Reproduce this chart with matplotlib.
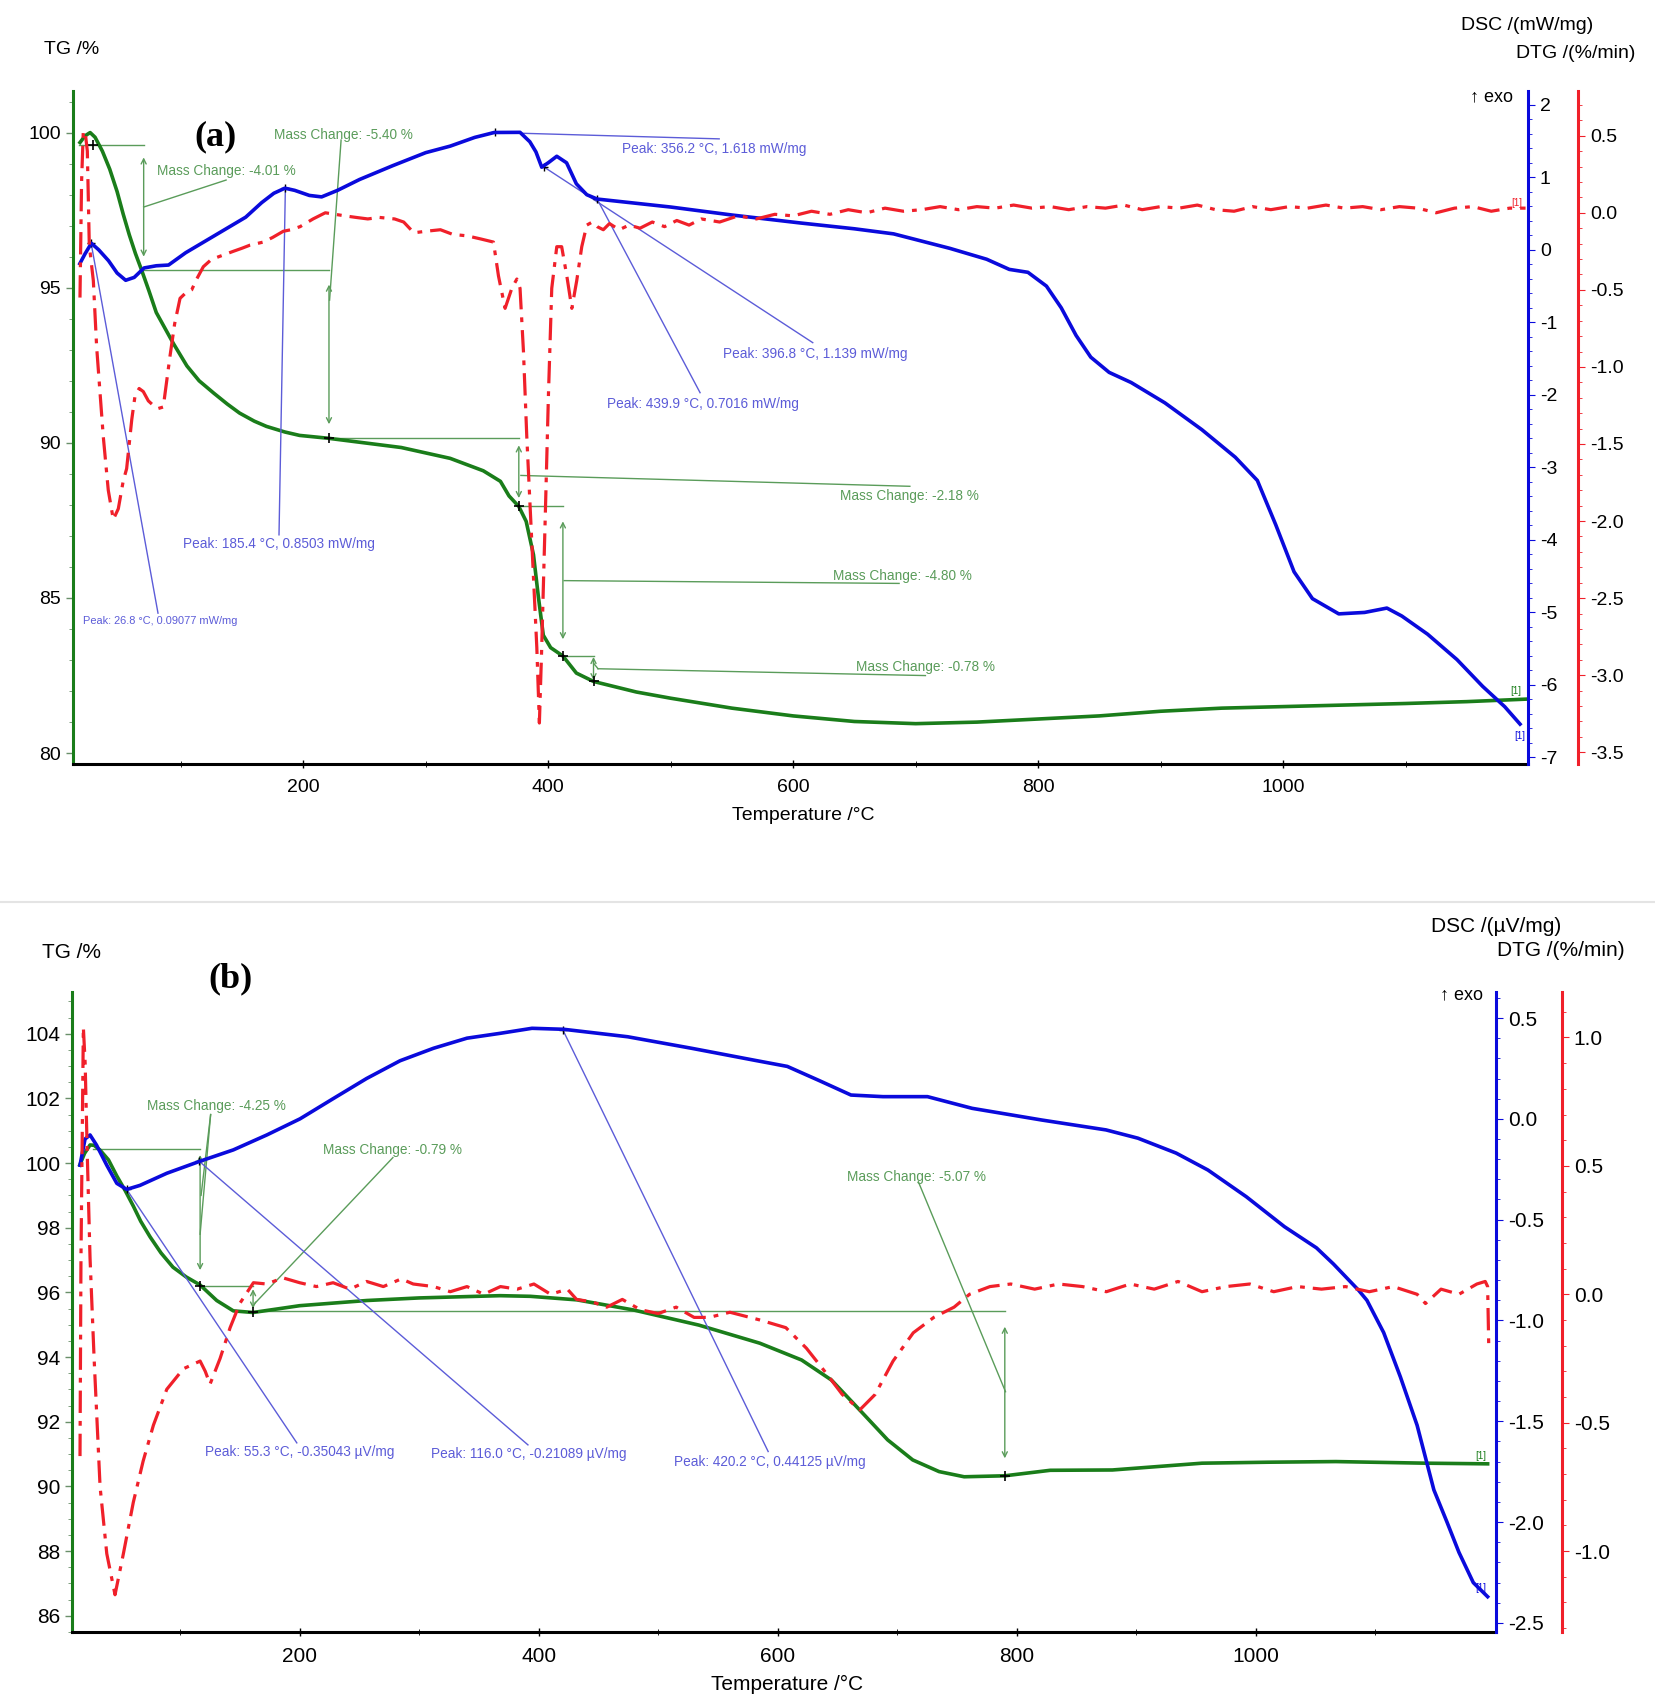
import matplotlib
matplotlib.use("Agg")
import matplotlib.pyplot as plt
from matplotlib.lines import Line2D
from matplotlib.ticker import MultipleLocator, FixedLocator, FormatStrFormatter

plt.rcParams['font.family'] = ['Liberation Sans', 'DejaVu Sans']
plt.rcParams['axes.unicode_minus'] = False

# ---------------- data : panel (a) ----------------
tg_a_T = [17.7, 22, 26, 30, 36, 42, 48, 53, 58, 63, 68, 74, 80, 87, 94, 105, 115, 127, 138, 148, 160,
          170, 185, 197, 220, 250, 280, 320, 347, 361, 368, 376, 382, 388, 392, 396, 402, 412, 423, 437,
          472, 500, 550, 600, 650, 700, 750, 800, 850, 900, 950, 1000, 1050, 1100, 1150, 1198]
tg_a = [99.68, 99.9, 100.0, 99.85, 99.4, 98.82, 98.1, 97.37, 96.7, 96.1, 95.57, 94.9, 94.2, 93.7, 93.2,
        92.48, 92.0, 91.6, 91.25, 90.96, 90.7, 90.53, 90.35, 90.24, 90.15, 90.0, 89.85, 89.5, 89.1, 88.76,
        88.29, 87.95, 87.47, 86.39, 85.03, 83.8, 83.4, 83.13, 82.58, 82.31, 81.97, 81.77, 81.45, 81.2,
        81.02, 80.95, 81.0, 81.1, 81.2, 81.35, 81.45, 81.5, 81.55, 81.6, 81.66, 81.74]

dsc_a_T = [17.6, 22, 27, 33, 41, 48, 55, 62, 70, 80, 90, 104, 117, 135, 153, 166, 176, 185, 193, 205,
           215, 228, 246, 273, 300, 320, 340, 356, 377, 385, 390, 394.7, 400, 407, 415, 423, 431.5, 440,
           500, 550, 606, 650, 682, 728, 758, 776.5, 791.7, 806.8, 818.9, 831, 843, 858, 876, 903.5,
           933.7, 961, 979, 994, 1009, 1024, 1045.5, 1066.6, 1084.8, 1097, 1118, 1142, 1163, 1181, 1193.5]
dsc_a = [-0.19, -0.05, 0.09, 0.0, -0.15, -0.32, -0.42, -0.38, -0.25, -0.22, -0.21, -0.04, 0.09, 0.27,
         0.45, 0.65, 0.78, 0.85, 0.82, 0.75, 0.73, 0.82, 0.97, 1.16, 1.34, 1.43, 1.55, 1.618, 1.62, 1.49,
         1.35, 1.14, 1.2, 1.29, 1.2, 0.91, 0.76, 0.70, 0.59, 0.48, 0.37, 0.29, 0.22, 0.02, -0.13, -0.27,
         -0.31, -0.50, -0.80, -1.18, -1.48, -1.69, -1.83, -2.11, -2.48, -2.86, -3.18, -3.79, -4.44,
         -4.81, -5.02, -5.0, -4.94, -5.05, -5.30, -5.65, -6.02, -6.30, -6.54]

dtg_a_T = [17.7, 19, 20.4, 22, 23.7, 25.3, 28.6, 31.3, 36.7, 40.8, 44.9, 49, 53, 55.8, 60, 62.6, 66,
           69.4, 73.5, 77.6, 81.5, 85.7, 91.2, 95, 99.4, 104, 108.9, 113, 118.4, 124, 129.3, 136, 142.9,
           150, 156.5, 162, 167.4, 175, 183.7, 190, 197.4, 208, 218, 226, 234, 243, 252.7, 262, 274.6,
           282, 290.3, 300, 312, 322, 334, 345, 355.3, 359.4, 364.8, 370.3, 374.4, 377, 379.8, 382.5,
           386.6, 390.7, 392.8, 394.7, 397.5, 400.2, 402.9, 407, 411, 415.2, 419.3, 423.3, 427.4, 431.5,
           436, 440, 445, 450, 458, 466, 475, 485, 495, 505, 515, 525, 540, 555, 570, 585, 600, 615, 630,
           645, 660, 675, 690, 705, 720, 735, 750, 765, 780, 795, 810, 825, 840, 855, 870, 885, 900, 915,
           930, 945, 960, 975, 990, 1005, 1020, 1035, 1050, 1065, 1080, 1095, 1110, 1125, 1140, 1155,
           1170, 1185, 1198]
dtg_a = [-0.55, 0.2, 0.53, 0.52, 0.40, -0.21, -0.44, -0.87, -1.45, -1.80, -1.99, -1.92, -1.74, -1.66,
         -1.34, -1.19, -1.14, -1.16, -1.22, -1.25, -1.27, -1.26, -0.93, -0.72, -0.555, -0.52, -0.50,
         -0.43, -0.35, -0.31, -0.29, -0.27, -0.25, -0.23, -0.21, -0.20, -0.19, -0.16, -0.12, -0.11, -0.09,
         -0.04, 0.0, -0.01, -0.02, -0.03, -0.04, -0.03, -0.04, -0.06, -0.13, -0.12, -0.11, -0.14, -0.15,
         -0.17, -0.19, -0.41, -0.62, -0.49, -0.43, -0.49, -0.90, -1.45, -2.13, -2.82, -3.31, -2.82, -2.0,
         -1.18, -0.49, -0.22, -0.22, -0.41, -0.62, -0.44, -0.22, -0.08, -0.06, -0.09, -0.11, -0.07,
         -0.11, -0.08, -0.10, -0.06, -0.09, -0.05, -0.08, -0.04, -0.06, -0.02, -0.04, -0.01, -0.02, 0.01,
         -0.01, 0.02, 0.0, 0.03, 0.01, 0.02, 0.04, 0.02, 0.04, 0.03, 0.05, 0.03, 0.04, 0.02, 0.04, 0.03,
         0.05, 0.02, 0.04, 0.03, 0.05, 0.02, 0.01, 0.04, 0.02, 0.04, 0.03, 0.05, 0.03, 0.04, 0.02, 0.04,
         0.03, 0.0, 0.03, 0.04, 0.01, 0.03, 0.03]

# ---------------- data : panel (b) ----------------
tg_b_T = [16, 20, 24.6, 28, 33, 40, 47, 54, 60.8, 67, 74.8, 84, 94, 105, 116.7, 130.6, 144.5, 161, 200,
          256, 300, 367.7, 393, 432, 479, 534, 585, 620, 645, 671, 692, 713, 735, 756, 790, 828, 880, 955,
          1010, 1067, 1142, 1194]
tg_b = [99.94, 100.3, 100.56, 100.55, 100.4, 100.1, 99.6, 99.15, 98.67, 98.2, 97.72, 97.22, 96.78,
        96.48, 96.23, 95.75, 95.43, 95.38, 95.59, 95.75, 95.83, 95.9, 95.88, 95.77, 95.46, 94.99, 94.43,
        93.91, 93.29, 92.27, 91.44, 90.82, 90.46, 90.30, 90.33, 90.5, 90.51, 90.72, 90.75, 90.77, 90.72,
        90.70]

dsc_b_T = [16.2, 20.4, 24.6, 30, 38.6, 47, 55.3, 66.4, 88.8, 116.7, 144.5, 172.5, 200.3, 228, 256, 284,
           312, 340, 367.7, 394.4, 421, 474.5, 527.8, 581, 608, 634.6, 661.3, 688, 725.3, 762.7, 821,
           874.7, 901.4, 933.4, 960, 992, 1024, 1050.8, 1065, 1086, 1093, 1107, 1121, 1135, 1149, 1160,
           1170, 1182, 1194]
dsc_b = [-0.23, -0.10, -0.08, -0.13, -0.23, -0.32, -0.35, -0.33, -0.27, -0.21, -0.154, -0.08, 0.0, 0.10,
         0.20, 0.288, 0.35, 0.40, 0.424, 0.449, 0.444, 0.407, 0.35, 0.29, 0.26, 0.19, 0.118, 0.11, 0.11,
         0.052, -0.006, -0.055, -0.096, -0.17, -0.254, -0.386, -0.535, -0.64, -0.72, -0.85, -0.90, -1.06,
         -1.28, -1.52, -1.84, -2.0, -2.15, -2.30, -2.37]

dtg_b_T = [16.2, 17, 19, 20.5, 22.3, 24.6, 28, 33, 38.6, 45.5, 52.5, 60.8, 69, 77.6, 88.8, 102.7, 116.7,
           121, 125, 133.4, 141.8, 150, 161.3, 172.5, 186, 200, 214, 228, 242, 256, 270, 285, 295, 312,
           326, 340, 354, 368, 382, 396, 410, 424, 431.7, 445, 457, 470, 485, 500, 515, 530, 542.6, 560,
           585, 606.8, 624, 641, 654, 668.7, 681.5, 696.5, 713.4, 730.6, 747.6, 760.5, 777.6, 795, 815,
           835, 855, 875, 895, 915, 935, 955, 975, 995, 1015, 1035, 1055, 1075, 1095, 1115, 1135, 1142,
           1155, 1170, 1185, 1192, 1194, 1195]
dtg_b = [-0.63, 0.14, 1.04, 0.9, 0.54, 0.14, -0.25, -0.75, -1.01, -1.17, -1.01, -0.81, -0.65, -0.51,
         -0.37, -0.29, -0.26, -0.30, -0.35, -0.25, -0.13, -0.035, 0.045, 0.04, 0.064, 0.045, 0.03, 0.045,
         0.02, 0.05, 0.03, 0.06, 0.04, 0.03, 0.01, 0.03, 0.0, 0.03, 0.02, 0.04, 0.0, 0.02, -0.02, -0.03,
         -0.05, -0.02, -0.06, -0.075, -0.05, -0.09, -0.09, -0.07, -0.1, -0.13, -0.21, -0.31, -0.39,
         -0.45, -0.39, -0.26, -0.15, -0.09, -0.05, 0.0, 0.03, 0.04, 0.02, 0.04, 0.03, 0.01, 0.04, 0.02,
         0.05, 0.01, 0.03, 0.04, 0.01, 0.03, 0.02, 0.03, 0.01, 0.03, 0.0, -0.036, 0.02, 0.0, 0.04, 0.05,
         0.03, -0.22]

# tick values
x_major = [200, 400, 600, 800, 1000]
x_minor = [100, 300, 500, 700, 900, 1100]
tg_a_ticks = [80, 85, 90, 95, 100]
dsc_a_ticks = [-7, -6, -5, -4, -3, -2, -1, 0, 1, 2]
dtg_a_ticks = [-3.5, -3.0, -2.5, -2.0, -1.5, -1.0, -0.5, 0.0, 0.5]
tg_b_ticks = [86, 88, 90, 92, 94, 96, 98, 100, 102, 104]
dsc_b_ticks = [-2.5, -2.0, -1.5, -1.0, -0.5, 0.0, 0.5]
dtg_b_ticks = [-1.0, -0.5, 0.0, 0.5, 1.0]

# mass-change steps: (T of arrow, TG from, TG to, label)
mass_a = [(69.7, 99.6, 95.56, "Mass Change: -4.01 %"), (221, 95.56, 90.15, "Mass Change: -5.40 %"),
          (376, 90.15, 87.95, "Mass Change: -2.18 %"), (412, 87.95, 83.13, "Mass Change: -4.80 %"),
          (437, 83.13, 82.31, "Mass Change: -0.78 %")]
mass_b = [(116.7, 100.45, 96.2, "Mass Change: -4.25 %"), (161, 96.2, 95.43, "Mass Change: -0.79 %"),
          (790, 95.43, 90.33, "Mass Change: -5.07 %")]
peaks_a = [(26.8, 0.09077, "Peak: 26.8 °C, 0.09077 mW/mg"), (185.4, 0.8503, "Peak: 185.4 °C, 0.8503 mW/mg"),
           (356.2, 1.618, "Peak: 356.2 °C, 1.618 mW/mg"), (396.8, 1.139, "Peak: 396.8 °C, 1.139 mW/mg"),
           (439.9, 0.7016, "Peak: 439.9 °C, 0.7016 mW/mg")]
peaks_b = [(55.3, -0.35043, "Peak: 55.3 °C, -0.35043 µV/mg"), (116.0, -0.21089, "Peak: 116.0 °C, -0.21089 µV/mg"),
           (420.2, 0.44125, "Peak: 420.2 °C, 0.44125 µV/mg")]

# ---------------- styles ----------------
W, H = 1656, 1700
GREEN = '#1a7d1a'
BLUE = '#0a0adc'
RED = '#f0202a'
ANN_G = '#5a9c5a'
ANN_B = '#5c5cd8'
DASH = (0, (7, 2.5, 1.5, 2.5))
AFS = 9.8

fig = plt.figure(figsize=(W / 100, H / 100), dpi=100)


def rect(l, t, r, b):
    return [l / W, 1 - b / H, (r - l) / W, (b - t) / H]


def ftxt(x, y, s, **kw):
    fig.text(x / W, 1 - y / H, s, **kw)


def setup(ax, xlim, tg_lim, tg_ticks, tg_minor, red_off, fs):
    ax.set_xlim(*xlim)
    ax.set_ylim(*tg_lim)
    ax.xaxis.set_major_locator(FixedLocator(x_major))
    ax.xaxis.set_minor_locator(FixedLocator(x_minor))
    ax.yaxis.set_major_locator(FixedLocator(tg_ticks))
    ax.yaxis.set_minor_locator(MultipleLocator(tg_minor))
    ax.spines['top'].set_visible(False)
    ax.spines['right'].set_visible(False)
    ax.spines['left'].set_color(GREEN)
    ax.spines['left'].set_linewidth(2.2)
    ax.spines['bottom'].set_linewidth(2.2)
    ax.tick_params(axis='both', which='major', labelsize=fs, length=5, width=1, direction='out')
    ax.tick_params(axis='y', which='major', color='#6a8f6a')
    ax.tick_params(axis='y', which='minor', length=3, color='#6a8f6a')
    ax.tick_params(axis='x', which='minor', length=5, direction='inout')
    ax.tick_params(axis='x', which='major', length=6, direction='inout', pad=8)
    axd = ax.twinx()
    axt = ax.twinx()
    for a, c in ((axd, BLUE), (axt, RED)):
        for s in ('top', 'bottom', 'left'):
            a.spines[s].set_visible(False)
        a.spines['right'].set_color(c)
        a.spines['right'].set_linewidth(2.2)
        a.tick_params(axis='y', which='major', labelsize=fs, length=5, color=c)
        a.tick_params(axis='y', which='minor', length=3, color=c)
    axt.spines['right'].set_position(('outward', red_off))
    return axd, axt


# ================= panel (a) =================
ax = fig.add_axes(rect(73, 91, 1528, 764))
axd, axt = setup(ax, (12, 1200), (79.65, 101.34), tg_a_ticks, 1, 36, 14)
axd.set_ylim(-7.09, 2.19)
axd.yaxis.set_major_locator(FixedLocator(dsc_a_ticks))
axd.yaxis.set_minor_locator(MultipleLocator(0.2))
axd.yaxis.set_major_formatter(FormatStrFormatter('%d'))
axt.set_ylim(-3.576, 0.79)
axt.yaxis.set_major_locator(FixedLocator(dtg_a_ticks))
axt.yaxis.set_minor_locator(MultipleLocator(0.1))
axt.yaxis.set_major_formatter(FormatStrFormatter('%.1f'))

# annotation geometry on TG axis (a)
akw = dict(arrowstyle='<->', color=ANN_G, lw=1.0, mutation_scale=9, shrinkA=0, shrinkB=0)
lkw = dict(color=ANN_G, lw=1.0)
ax.plot([17, 69.7], [99.6, 99.6], **lkw)
ax.plot([69.7, 221], [95.56, 95.56], **lkw)
ax.plot([221, 376], [90.15, 90.15], **lkw)
ax.plot([376, 412], [87.95, 87.95], **lkw)
ax.plot([412, 437], [83.13, 83.13], **lkw)
arrow_span_a = [(99.2, 96.0), (95.1, 90.6), (89.92, 88.22), (87.47, 83.67), (83.1, 82.35)]
for (T, a0, a1, lab), (s0, s1) in zip(mass_a, arrow_span_a):
    ax.annotate('', xy=(T, s1), xytext=(T, s0), arrowprops=akw)
# leaders + texts
ax.plot([69.7, 137], [97.6, 98.47], **lkw)
ax.text(80.6, 98.76, mass_a[0][3], color=ANN_G, fontsize=AFS, va='center', ha='left')
ax.plot([221.5, 230.9], [94.6, 99.76], **lkw)
ax.text(176.5, 99.92, mass_a[1][3], color=ANN_G, fontsize=AFS, va='center', ha='left')
ax.plot([377.7, 695.3], [88.95, 88.6], **lkw)
ax.text(638.4, 88.3, mass_a[2][3], color=ANN_G, fontsize=AFS, va='center', ha='left')
ax.plot([413, 686.5], [85.56, 85.47], **lkw)
ax.text(632.6, 85.72, mass_a[3][3], color=ANN_G, fontsize=AFS, va='center', ha='left')
ax.plot([440.7, 708], [82.72, 82.5], **lkw)
ax.plot([437, 440.7], [82.9, 82.72], **lkw)
ax.text(651.5, 82.79, mass_a[4][3], color=ANN_G, fontsize=AFS, va='center', ha='left')
ax.plot([221, 376, 412, 437, 28], [90.15, 87.95, 83.13, 82.31, 99.6], '+', color='black', ms=7, mew=1.2, zorder=6)

# blue peak annotations (a)
ends_a = [(81.4, -5.01), (180.2, -3.93), (539.6, 1.53), (616, -1.28), (524, -1.97)]
txt_a = [(20.2, -5.12, 7.9), (180.2, -4.06, AFS), (460, 1.39, AFS), (542.8, -1.43, AFS), (448, -2.12, AFS)]
for (T, v, lab), (ex, ey), (tx, ty, fs) in zip(peaks_a, ends_a, txt_a):
    axd.plot([T, ex], [v, ey], color=ANN_B, lw=1.0)
    axd.text(tx, ty, lab, color=ANN_B, fontsize=fs, va='center',
             ha='center' if abs(tx - ex) < 1 else 'left')
    axd.plot([T], [v], '+', color='black', ms=6, mew=1)

ax.plot(tg_a_T, tg_a, color=GREEN, lw=2.6, zorder=5)
axd.plot(dsc_a_T, dsc_a, color=BLUE, lw=2.6)
axt.plot(dtg_a_T, dtg_a, color=RED, lw=2.3, linestyle=DASH)
ax.text(1190, 81.92, '[1]', color=GREEN, fontsize=7, ha='center')
axd.text(1193, -6.75, '[1]', color=BLUE, fontsize=7, ha='center')
axt.text(1191, 0.045, '[1]', color=RED, fontsize=7, ha='center')

ftxt(72, 50, 'TG /%', fontsize=14, ha='center', va='center')
ftxt(1527, 25, 'DSC /(mW/mg)', fontsize=14, ha='center', va='center')
ftxt(1576, 53, 'DTG /(%/min)', fontsize=14, ha='center', va='center')
ftxt(1513, 97, '↑ exo', fontsize=13, ha='right', va='center')
ftxt(216, 137, '(a)', fontsize=26, fontweight='bold', family='Liberation Serif', ha='center', va='center')
ftxt(803, 815, 'Temperature /°C', fontsize=14, ha='center', va='center')

# separator line
fig.add_artist(Line2D([0, 1], [1 - 902 / H] * 2, color='#e4e4e4', lw=1.5))

# ================= panel (b) =================
bx = fig.add_axes(rect(72, 992, 1496, 1632))
bxd, bxt = setup(bx, (9.5, 1201), (85.5, 105.29), tg_b_ticks, 0.5, 47.5, 15)
bxd.set_ylim(-2.545, 0.629)
bxd.yaxis.set_major_locator(FixedLocator(dsc_b_ticks))
bxd.yaxis.set_minor_locator(MultipleLocator(0.1))
bxd.yaxis.set_major_formatter(FormatStrFormatter('%.1f'))
bxt.set_ylim(-1.315, 1.177)
bxt.yaxis.set_major_locator(FixedLocator(dtg_b_ticks))
bxt.yaxis.set_minor_locator(MultipleLocator(0.1))
bxt.yaxis.set_major_formatter(FormatStrFormatter('%.1f'))

bx.plot([27, 116.7], [100.45, 100.45], **lkw)
bx.plot([116.7, 161], [96.2, 96.2], **lkw)
bx.plot([161, 790], [95.43, 95.43], **lkw)
arrow_span_b = [(100.25, 96.69), (96.1, 95.5), (94.94, 90.87)]
for (T, a0, a1, lab), (s0, s1) in zip(mass_b, arrow_span_b):
    bx.annotate('', xy=(T, s1), xytext=(T, s0), arrowprops=akw)
bx.plot([125.5, 117.5], [101.5, 99.0], **lkw)
bx.plot([125.5, 116.7], [101.5, 97.8], **lkw)
bx.text(72.4, 101.75, mass_b[0][3], color=ANN_G, fontsize=AFS, va='center', ha='left')
bx.plot([278, 162.7], [100.17, 95.67], **lkw)
bx.text(219.6, 100.4, mass_b[1][3], color=ANN_G, fontsize=AFS, va='center', ha='left')
bx.plot([717.7, 790.6], [99.42, 92.93], **lkw)
bx.text(658, 99.58, mass_b[2][3], color=ANN_G, fontsize=AFS, va='center', ha='left')
bx.plot([116.7, 161, 790], [96.2, 95.4, 90.33], '+', color='black', ms=7, mew=1.2, zorder=6)

ends_b = [(197.6, -1.607), (391, -1.617), (592, -1.65)]
txt_b = [(120.8, -1.654), (310, -1.662), (513, -1.70)]
for (T, v, lab), (ex, ey), (tx, ty) in zip(peaks_b, ends_b, txt_b):
    bxd.plot([T, ex], [v, ey], color=ANN_B, lw=1.0)
    bxd.text(tx, ty, lab, color=ANN_B, fontsize=AFS, va='center', ha='left')
    bxd.plot([T], [v], '+', color='black', ms=6, mew=1)

bx.plot(tg_b_T, tg_b, color=GREEN, lw=2.6, zorder=5)
bxd.plot(dsc_b_T, dsc_b, color=BLUE, lw=2.6)
bxt.plot(dtg_b_T, dtg_b, color=RED, lw=2.3, linestyle=DASH)
bx.text(1188, 90.85, '[1]', color=GREEN, fontsize=7, ha='center')
bxd.text(1188, -2.34, '[1]', color=BLUE, fontsize=7, ha='center')

ftxt(72, 953, 'TG /%', fontsize=15, ha='center', va='center')
ftxt(1496, 926, 'DSC /(µV/mg)', fontsize=15, ha='center', va='center')
ftxt(1561, 951, 'DTG /(%/min)', fontsize=15, ha='center', va='center')
ftxt(1483, 995, '↑ exo', fontsize=13, ha='right', va='center')
ftxt(231, 979, '(b)', fontsize=26, fontweight='bold', family='Liberation Serif', ha='center', va='center')
ftxt(787, 1684, 'Temperature /°C', fontsize=15, ha='center', va='center')

fig.savefig('out.png', dpi=100)
